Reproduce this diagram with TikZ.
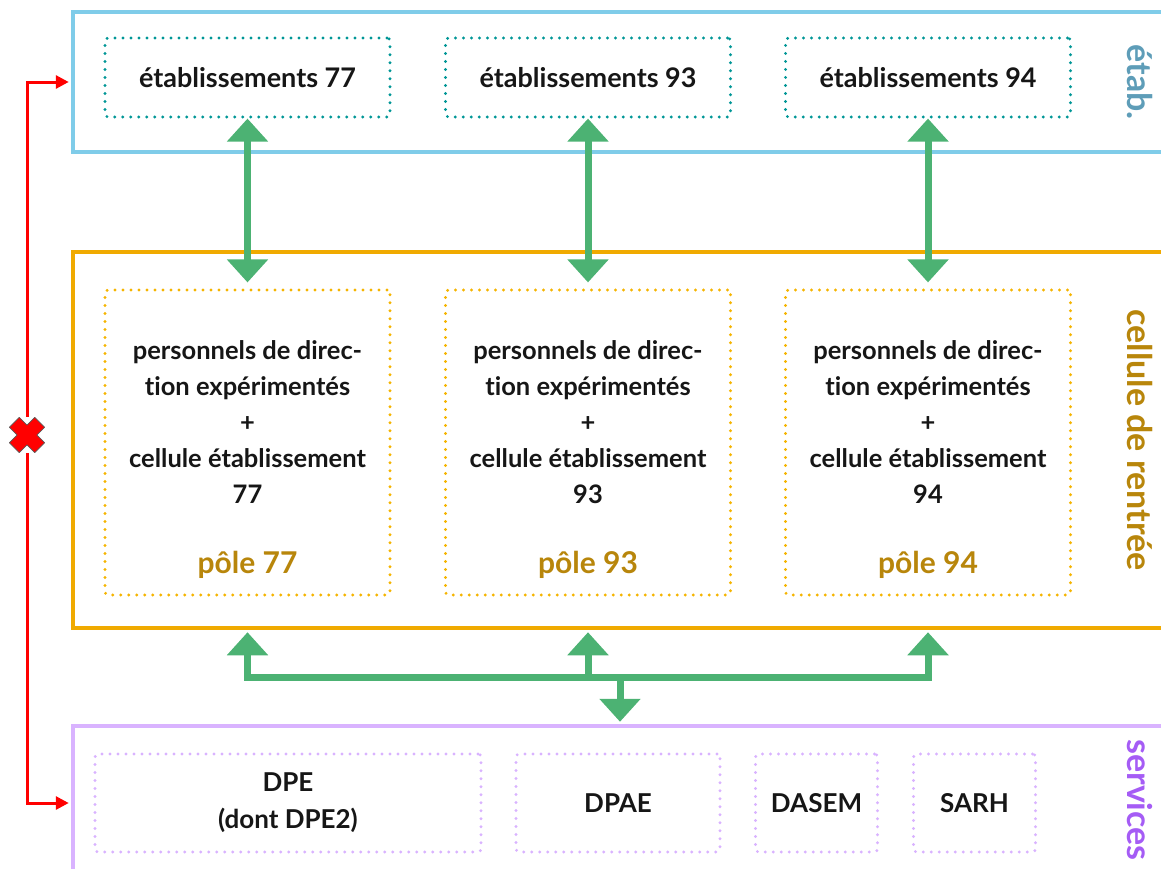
\documentclass[tikz,border=0pt]{standalone}
\usepackage{fontspec}
\setmainfont{Lato}[Ligatures=NoCommon]
\usepackage{tikz}
\usetikzlibrary{
  arrows.meta,
  calc,
  positioning}

\definecolor{etabblue}{RGB}{127,204,233}
\definecolor{etabdots}{RGB}{0,150,150}
\definecolor{etabtext}{RGB}{94,157,184}
\definecolor{cellorange}{RGB}{240,170,0}
\definecolor{celldots}{RGB}{245,180,0}
\definecolor{cellgold}{RGB}{184,134,11}
\definecolor{servlav}{RGB}{217,179,255}
\definecolor{servtext}{RGB}{165,92,245}
\definecolor{arrowgreen}{RGB}{76,178,115}
\definecolor{textblack}{RGB}{22,22,22}

\tikzset{
  outerframe/.style={draw, line width=4.5pt, minimum width=1127pt, inner sep=0pt},
  dotbox/.style={draw, line width=3.2pt, line cap=round, dash pattern=on 0pt off 8pt,
    rounded corners=3pt, inner sep=0pt, align=center, text=textblack},
  etabbox/.style={dotbox, draw=etabdots, minimum width=285pt, minimum height=79pt,
    font=\fontsize{27}{30}\bfseries},
  polebox/.style={dotbox, draw=celldots, minimum width=285pt, minimum height=305pt},
  poletext/.style={align=center, text=textblack, inner sep=0pt, font=\fontsize{25.5}{36}\bfseries},
  polelabel/.style={text=cellgold, inner sep=0pt, font=\fontsize{30}{32}\bfseries},
  servbox/.style={dotbox, draw=servlav, minimum height=98pt,
    font=\fontsize{26}{37}\bfseries},
  sidelabel/.style={rotate=-90, inner sep=0pt, font=\fontsize{34}{36}\bfseries},
  biarrow/.style={arrowgreen, line width=7pt,
    {Triangle[width=40pt,length=23pt]}-{Triangle[width=40pt,length=23pt]}},
  uparrow/.style={arrowgreen, line width=7pt, -{Triangle[width=40pt,length=23pt]}},
  greenline/.style={arrowgreen, line width=7pt, line cap=rect},
  redarrow/.style={red, line width=3pt, line join=miter, -{Triangle[width=13pt,length=13pt]}},
  crossmark/.style={fill=red, draw=black!65, line width=0.7pt, line join=round}
}

\begin{document}
\begin{tikzpicture}[x=1pt, y=-1pt]
  \useasboundingbox (0,0) rectangle (1161,868);
  \clip (0,0) rectangle (1161,868);

  % outer frames
  \node[outerframe, draw=etabblue, minimum height=140pt] (etab) at (636.5,82) {};
  \node[outerframe, draw=cellorange, minimum height=376pt] (cellule) at (636.5,440) {};
  \node[outerframe, draw=servlav, minimum height=194pt] (services) at (636.5,823) {};

  \node[sidelabel, text=etabtext] (etablabel) at (1140,82) {étab.};
  \node[sidelabel, text=cellgold] (celllabel) at (1140,440) {cellule de rentrée};
  \node[sidelabel, text=servtext] (servlabel) at (1140,800) {services};

  % établissements
  \node[etabbox] (etab77) at (247.5,77.5) {établissements 77};
  \node[etabbox] (etab93) at (588,77.5) {établissements 93};
  \node[etabbox] (etab94) at (928,77.5) {établissements 94};

  % pôles
  \node[polebox] (pole77) at (247.5,442.5) {};
  \node[polebox] (pole93) at (588,442.5) {};
  \node[polebox] (pole94) at (928,442.5) {};
  \node[poletext] (txt77) at ([yshift=20pt]pole77.center)
    {personnels de direc-\\tion expérimentés\\+\\cellule établissement\\77};
  \node[poletext] (txt93) at ([yshift=20pt]pole93.center)
    {personnels de direc-\\tion expérimentés\\+\\cellule établissement\\93};
  \node[poletext] (txt94) at ([yshift=20pt]pole94.center)
    {personnels de direc-\\tion expérimentés\\+\\cellule établissement\\94};
  \node[polelabel] (lab77) at ([yshift=32pt]pole77.south) {pôle 77};
  \node[polelabel] (lab93) at ([yshift=32pt]pole93.south) {pôle 93};
  \node[polelabel] (lab94) at ([yshift=32pt]pole94.south) {pôle 94};

  % services
  \node[servbox, minimum width=386pt] (dpe) at (288,803) {DPE\\(dont DPE2)};
  \node[servbox, minimum width=204pt] (dpae) at (618,803) {DPAE};
  \node[servbox, minimum width=122pt] (dasem) at (816.5,803) {DASEM};
  \node[servbox, minimum width=122pt] (sarh) at (974.5,803) {SARH};

  % green links
  \draw[biarrow, shorten >=6pt] (etab77.south) -- (pole77.north);
  \draw[biarrow, shorten >=6pt] (etab93.south) -- (pole93.north);
  \draw[biarrow, shorten >=6pt] (etab94.south) -- (pole94.north);

  \coordinate (bar) at (620,677);
  \draw[greenline] (bar -| pole77) -- (bar -| pole94);
  \draw[uparrow, shorten >=2pt] (bar -| pole77) -- (pole77 |- cellule.south);
  \draw[uparrow, shorten >=2pt] (bar -| pole93) -- (pole93 |- cellule.south);
  \draw[uparrow, shorten >=2pt] (bar -| pole94) -- (pole94 |- cellule.south);
  \draw[uparrow, shorten >=2pt] (bar) -- (bar |- services.north);

  % red link
  \node[circle, minimum size=36pt, inner sep=0pt] (cross) at (27,435) {};
  \draw[redarrow, shorten >=2pt] (cross.north) |- (etab.west);
  \draw[redarrow, shorten >=2pt] (cross.south) |- (services.west |- dpe);
  \draw[crossmark, shift={(cross.center)}, rotate=45]
    (7,7) -- (18,7) -- (18,-7) -- (7,-7) -- (7,-18) -- (-7,-18) -- (-7,-7)
    -- (-18,-7) -- (-18,7) -- (-7,7) -- (-7,18) -- (7,18) -- cycle;
\end{tikzpicture}
\end{document}
